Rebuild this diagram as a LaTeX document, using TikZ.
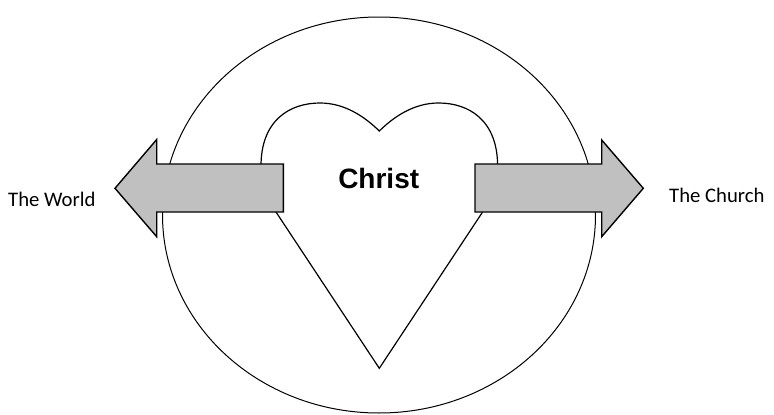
\documentclass[tikz,border=0pt]{standalone}
\usepackage{fontspec}
\setmainfont{Carlito}
\newfontfamily\arialbold{Liberation Sans}[BoldFont={* Bold}]
\usetikzlibrary{positioning}
\definecolor{arrgray}{HTML}{C0C0C0}
\tikzset{
  bigarrow/.style={fill=arrgray, draw=black, line width=1.4pt, line join=miter},
  heartline/.style={draw=black, fill=white, line width=1.2pt, line join=miter},
  sidelabel/.style={font={\fontsize{20.7}{24}\selectfont}, inner sep=0pt}
}

\begin{document}
\begin{tikzpicture}[x=1pt, y=-1pt]
    \useasboundingbox (0,0) rectangle (774,415);
    % outer circle
    \draw[line width=1pt] (379,215) ellipse [x radius=216.5, y radius=198];
    % heart
    \draw[heartline] (379.3,368.3) -- (276,212) -- (261,166)
      .. controls (261,120) and (290,103) .. (320,103)
      .. controls (345,103) and (365,117) .. (379.3,131)
      .. controls (393.6,117) and (413.6,103) .. (438.6,103)
      .. controls (468.6,103) and (497.6,120) .. (497.6,166)
      -- (482.6,212) -- cycle;
    % arrows
    \draw[bigarrow] (283.3,164) -- (156.7,164) -- (156.7,139.5) -- (115,188.3)
      -- (156.7,236.7) -- (156.7,212) -- (283.3,212) -- cycle;
    \draw[bigarrow] (475,164) -- (601.7,164) -- (601.7,140) -- (643.3,188.3)
      -- (601.7,236.7) -- (601.7,212) -- (475,212) -- cycle;
    \node[font={\arialbold\bfseries\fontsize{28}{32}\selectfont}, inner sep=0pt, anchor=base] (christ) at (378.7,188.3) {Christ};
    \node[sidelabel, anchor=base west] (world) at (8,206) {The World};
    \node[sidelabel, anchor=base west] (church) at (669,202) {The Church};
\end{tikzpicture}
\end{document}
